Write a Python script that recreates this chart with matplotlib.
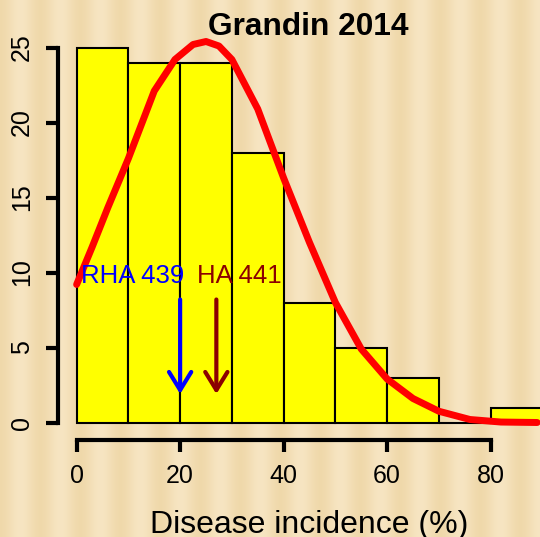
#!/usr/bin/env python3

from matplotlib import pyplot as pl
import numpy as np

pl.rcParams['font.family'] = ['Liberation Sans', 'DejaVu Sans']

# histogram of disease incidence, 10 % wide bins
bin_left = [0, 10, 20, 30, 40, 50, 60, 70, 80]
counts = [25, 24, 24, 18, 8, 5, 3, 0, 1]

# fitted curve, points
curve_x = [0, 3, 6, 10, 15, 19, 22.5, 25, 27.5, 30, 35, 40, 45, 50,
           55, 60, 65, 70, 76, 82, 89]
curve_y = [9.2, 11.7, 14.3, 17.6, 22.1, 24.2, 25.2, 25.4, 25.1, 24.2,
           20.9, 16.3, 12.0, 8.0, 4.9, 2.9, 1.6, 0.75, 0.2, 0.03, 0.0]

# marked lines
marker_names = ['RHA 439', 'HA 441']
marker_x = [20, 27]
marker_colors = ['#0000ff', '#8b0000']

W, H = 540, 537
fig = pl.figure(figsize=(W / 100, H / 100), dpi=100)
fig.patch.set_facecolor('#f5e0b4')

# striped paper texture behind the plot
cols = np.arange(W)
shade = 0.5 + 0.5 * np.cos(2 * np.pi * cols / 40.0)
light = np.array([0.968, 0.898, 0.760])
dark = np.array([0.940, 0.850, 0.670])
row = light[None, :] * (1 - shade[:, None]) + dark[None, :] * shade[:, None]
bg = np.repeat(row[None, :, :], H, axis=0)
fig.figimage(bg, xo=0, yo=0, zorder=0)

ax = fig.add_axes([58 / W, (H - 437.5) / H, 503 / W, 405 / H])
ax.set_zorder(2)
ax.set_facecolor('none')
ax.set_xlim(-3.6, 93.6)
ax.set_ylim(-1, 26)

ax.bar(bin_left, counts, width=10, align='edge', color='#ffff00',
       edgecolor='black', linewidth=1.5, zorder=2)

ax.plot(curve_x, curve_y, color='#ff0000', linewidth=5,
        solid_capstyle='round', solid_joinstyle='round', zorder=3)

text_x = [10.9, 31.4]
for name, x, tx, c in zip(marker_names, marker_x, text_x, marker_colors):
    ax.text(tx, 9.75, name, color=c, fontsize=18.5, ha='center',
            va='center', zorder=4)
    ax.annotate('', xy=(x, 1.9), xytext=(x, 8.2),
                arrowprops=dict(arrowstyle='->,head_length=0.65,head_width=0.4',
                                color=c, lw=3, shrinkA=0, shrinkB=0,
                                mutation_scale=20, capstyle='round'),
                zorder=4)

for side in ['top', 'right']:
    ax.spines[side].set_visible(False)
ax.spines['left'].set_bounds(0, 25)
ax.spines['bottom'].set_bounds(0, 80)
ax.spines['left'].set_linewidth(3)
ax.spines['bottom'].set_linewidth(3)
ax.spines['bottom'].set_position(('outward', 1.5))

ax.set_xticks([0, 20, 40, 60, 80])
ax.set_yticks([0, 5, 10, 15, 20, 25])
ax.tick_params(axis='both', length=8.5, width=3, labelsize=18)
ax.tick_params(axis='x', pad=9)
ax.tick_params(axis='y', pad=9)
for lab in ax.get_yticklabels():
    lab.set_rotation(90)
    lab.set_va('center')

fig.text(308.5 / W, 1 - 35 / H, 'Grandin 2014', ha='center',
         va='baseline', fontsize=22.8, fontweight='bold', zorder=3)
fig.text(309 / W, 4 / H, 'Disease incidence (%)', ha='center',
         va='baseline', fontsize=23, zorder=3)

fig.savefig('out.png', dpi=100, facecolor=fig.get_facecolor())
